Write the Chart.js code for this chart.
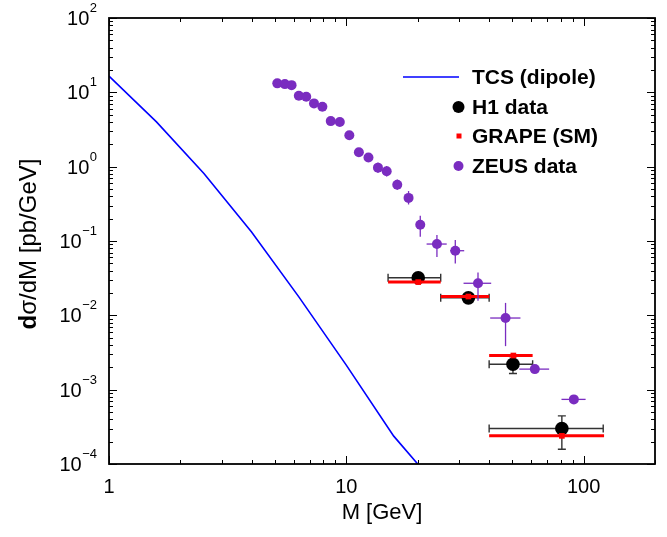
<!DOCTYPE html>
<html>
<head>
<meta charset="utf-8">
<script src="https://cdn.jsdelivr.net/npm/chart.js@4.4.1/dist/chart.umd.min.js"></script>
<style>
html, body { margin: 0; padding: 0; background: #fff; }
#wrap { width: 667px; height: 537px; }
</style>
</head>
<body>
<div id="wrap"><canvas id="chart" width="667" height="537"></canvas></div>
<script>
// TCS (dipole) prediction
var tcsM   = [1, 1.585, 2.512, 3.981, 6.31, 10, 15.85, 20];
var tcsVal = [16.5, 4.0, 0.81, 0.133, 0.0177, 0.00214, 0.000237, 0.0001];

// H1 data: bin edges in M, value and y error band
var h1M    = [20.1, 32.7, 50.4, 81];
var h1Val  = [0.032, 0.0172, 0.0022, 0.0003];
var h1Mlo  = [15, 25, 40, 40];
var h1Mhi  = [25, 40, 61, 121];
var h1Lo   = [0.029, 0.0155, 0.00165, 0.000158];
var h1Hi   = [0.035, 0.019, 0.0028, 0.000444];

// GRAPE (SM) prediction per H1 bin
var grapeM   = [20.1, 32.7, 50.6, 81];
var grapeVal = [0.028, 0.0179, 0.00288, 0.000239];
var grapeMlo = [15, 25, 40, 40];
var grapeMhi = [25, 40, 61, 122];

// ZEUS data
var zeusM   = [5.12, 5.51, 5.88, 6.31, 6.78, 7.31, 7.93, 8.60, 9.39, 10.3, 11.3, 12.4, 13.6, 14.8, 16.4, 18.3, 20.5, 24.1, 28.8, 35.9, 46.9, 62.3, 91];
var zeusVal = [13.2, 12.9, 12.5, 9.0, 8.7, 7.1, 6.4, 4.1, 4.0, 2.64, 1.56, 1.33, 0.97, 0.87, 0.57, 0.38, 0.165, 0.091, 0.074, 0.027, 0.0092, 0.00189, 0.00074];
var zeusMlo = [4.95, 5.33, 5.7, 6.1, 6.55, 7.05, 7.65, 8.3, 9.05, 9.95, 10.9, 12.0, 13.1, 14.3, 15.8, 17.6, 19.7, 21.8, 27.4, 31.2, 40.4, 53.6, 80.7];
var zeusMhi = [5.3, 5.7, 6.06, 6.52, 7.0, 7.57, 8.2, 8.9, 9.72, 10.65, 11.7, 12.8, 14.1, 15.3, 17.0, 19.0, 21.3, 26.5, 31.4, 40.8, 54.2, 71.6, 102];
var zeusLo  = [12.6, 12.3, 11.9, 8.6, 8.3, 6.8, 6.1, 3.9, 3.8, 2.5, 1.45, 1.22, 0.83, 0.74, 0.49, 0.31, 0.114, 0.061, 0.050, 0.0157, 0.00385, 0.0017, 0.00067];
var zeusHi  = [13.8, 13.5, 13.1, 9.4, 9.1, 7.4, 6.7, 4.3, 4.2, 2.78, 1.68, 1.45, 1.14, 1.02, 0.67, 0.47, 0.218, 0.12, 0.103, 0.0378, 0.0147, 0.0021, 0.00081];

// axis ticks
var xLabels = [1, 10, 100];
var yExps = [-4, -3, -2, -1, 0, 1, 2];

var PURPLE = '#7a2cc0';
var FONT = '"Liberation Sans", Arial, Helvetica, sans-serif';

function points(ms, vals, mlo, mhi, lo, hi) {
    return ms.map(function (m, i) {
        return {
            x: m, y: vals[i],
            xMin: mlo ? mlo[i] : null, xMax: mhi ? mhi[i] : null,
            yMin: lo ? lo[i] : null, yMax: hi ? hi[i] : null
        };
    });
}

// draws x/y error bars of a dataset right before its markers
var errorBars = {
    id: 'errorBars',
    beforeDatasetDraw: function (chart, args) {
        var ds = chart.data.datasets[args.index];
        if (!ds.errStyle) return;
        var xs = chart.scales.x, ys = chart.scales.y, ctx = chart.ctx, a = chart.chartArea;
        var st = ds.errStyle;
        ctx.save();
        ctx.beginPath();
        ctx.rect(a.left, a.top, a.right - a.left, a.bottom - a.top);
        ctx.clip();
        ctx.strokeStyle = st.color;
        ds.data.forEach(function (p) {
            var px = xs.getPixelForValue(p.x), py = ys.getPixelForValue(p.y);
            if (p.xMin != null) {
                var x1 = xs.getPixelForValue(p.xMin), x2 = xs.getPixelForValue(p.xMax);
                ctx.lineWidth = st.xWidth;
                ctx.beginPath();
                ctx.moveTo(x1, py); ctx.lineTo(x2, py);
                if (st.cap) {
                    ctx.moveTo(x1, py - st.cap); ctx.lineTo(x1, py + st.cap);
                    ctx.moveTo(x2, py - st.cap); ctx.lineTo(x2, py + st.cap);
                }
                ctx.stroke();
            }
            if (p.yMin != null) {
                var y1 = ys.getPixelForValue(p.yMin), y2 = ys.getPixelForValue(p.yMax);
                ctx.lineWidth = st.yWidth;
                ctx.beginPath();
                ctx.moveTo(px, y1); ctx.lineTo(px, y2);
                if (st.cap) {
                    ctx.moveTo(px - st.cap, y1); ctx.lineTo(px + st.cap, y1);
                    ctx.moveTo(px - st.cap, y2); ctx.lineTo(px + st.cap, y2);
                }
                ctx.stroke();
            }
        });
        ctx.restore();
    }
};

// frame, inward ticks on all four sides, tick labels and titles
var axesFrame = {
    id: 'axesFrame',
    afterDraw: function (chart) {
        var ctx = chart.ctx, a = chart.chartArea, xs = chart.scales.x, ys = chart.scales.y;
        ctx.save();
        ctx.strokeStyle = '#000';
        ctx.lineWidth = 1.8;
        ctx.strokeRect(a.left, a.top, a.right - a.left, a.bottom - a.top);

        ctx.lineWidth = 1;
        ctx.beginPath();
        var d, k, v, p, len;
        for (d = 0; d <= 2; d++) {
            for (k = 1; k <= 9; k++) {
                v = k * Math.pow(10, d);
                if (v < xs.min || v > xs.max) continue;
                p = Math.round(xs.getPixelForValue(v)) + 0.5;
                len = k === 1 ? 8 : 4;
                ctx.moveTo(p, a.bottom); ctx.lineTo(p, a.bottom - len);
                ctx.moveTo(p, a.top); ctx.lineTo(p, a.top + len);
            }
        }
        for (d = -4; d <= 2; d++) {
            for (k = 1; k <= 9; k++) {
                v = k * Math.pow(10, d);
                if (v < ys.min * 0.999 || v > ys.max * 1.001) continue;
                p = Math.round(ys.getPixelForValue(v)) + 0.5;
                len = k === 1 ? 8 : 4;
                ctx.moveTo(a.left, p); ctx.lineTo(a.left + len, p);
                ctx.moveTo(a.right, p); ctx.lineTo(a.right - len, p);
            }
        }
        ctx.stroke();

        ctx.fillStyle = '#000';
        ctx.font = '20px ' + FONT;
        ctx.textAlign = 'center';
        ctx.textBaseline = 'middle';
        xLabels.forEach(function (v) {
            ctx.fillText(String(v), xs.getPixelForValue(v), a.bottom + 23);
        });

        yExps.forEach(function (e) {
            var py = ys.getPixelForValue(Math.pow(10, e));
            var sup = e < 0 ? '\u2212' + (-e) : String(e);
            ctx.font = '13px ' + FONT;
            var sw = ctx.measureText(sup).width;
            ctx.textAlign = 'left';
            ctx.textBaseline = 'alphabetic';
            ctx.fillText(sup, 97 - sw, py - 6);
            ctx.font = '20px ' + FONT;
            ctx.textAlign = 'right';
            ctx.fillText('10', 96.5 - sw, py + 7);
        });

        // x title
        ctx.font = '22px ' + FONT;
        ctx.textAlign = 'center';
        ctx.textBaseline = 'middle';
        ctx.fillText('M [GeV]', (a.left + a.right) / 2, 513);

        // y title, bold "d" then the rest
        ctx.save();
        ctx.translate(29, 244);
        ctx.rotate(-Math.PI / 2);
        ctx.textBaseline = 'middle';
        ctx.textAlign = 'left';
        ctx.font = 'bold 24px ' + FONT;
        var w1 = ctx.measureText('d').width;
        ctx.font = '24px ' + FONT;
        var w2 = ctx.measureText('\u03c3/dM [pb/GeV]').width;
        var x0 = -(w1 + w2) / 2;
        ctx.font = 'bold 24px ' + FONT;
        ctx.fillText('d', x0, 0);
        ctx.font = '24px ' + FONT;
        ctx.fillText('\u03c3/dM [pb/GeV]', x0 + w1, 0);
        ctx.restore();

        ctx.restore();
    }
};

// legend in the upper right of the plot
var legendBox = {
    id: 'legendBox',
    afterDraw: function (chart) {
        var ctx = chart.ctx;
        var rows = [77, 107, 136, 166];
        var names = ['TCS (dipole)', 'H1 data', 'GRAPE (SM)', 'ZEUS data'];
        ctx.save();
        ctx.strokeStyle = '#0000ff';
        ctx.lineWidth = 1.6;
        ctx.beginPath();
        ctx.moveTo(403, rows[0]); ctx.lineTo(459, rows[0]);
        ctx.stroke();
        ctx.fillStyle = '#000';
        ctx.beginPath(); ctx.arc(458.5, rows[1], 6, 0, 2 * Math.PI); ctx.fill();
        ctx.fillStyle = '#ff0000';
        ctx.fillRect(456.5, rows[2] - 2.5, 5, 5);
        ctx.fillStyle = PURPLE;
        ctx.beginPath(); ctx.arc(458.5, rows[3], 5, 0, 2 * Math.PI); ctx.fill();
        ctx.fillStyle = '#000';
        ctx.font = 'bold 21px ' + FONT;
        ctx.textAlign = 'left';
        ctx.textBaseline = 'middle';
        names.forEach(function (n, i) { ctx.fillText(n, 472, rows[i] + 1); });
        ctx.restore();
    }
};

var ctx = document.getElementById('chart').getContext('2d');
var chart = new Chart(ctx, {
    type: 'scatter',
    data: {
        datasets: [{
            label: 'TCS (dipole)',
            data: points(tcsM, tcsVal),
            showLine: true,
            borderColor: '#0000ff',
            borderWidth: 1.6,
            pointRadius: 0,
            tension: 0,
            order: 4
        }, {
            label: 'H1 data',
            data: points(h1M, h1Val, h1Mlo, h1Mhi, h1Lo, h1Hi),
            pointRadius: 6.8,
            pointBackgroundColor: '#000',
            pointBorderWidth: 0,
            errStyle: { color: '#333', xWidth: 1.4, yWidth: 1.4, cap: 4 },
            order: 3
        }, {
            label: 'GRAPE (SM)',
            data: points(grapeM, grapeVal, grapeMlo, grapeMhi),
            pointStyle: 'rect',
            pointRadius: 4,
            pointBackgroundColor: '#ff0000',
            pointBorderWidth: 0,
            errStyle: { color: '#ff0000', xWidth: 3, yWidth: 3, cap: 0 },
            order: 2
        }, {
            label: 'ZEUS data',
            data: points(zeusM, zeusVal, zeusMlo, zeusMhi, zeusLo, zeusHi),
            pointRadius: 5,
            pointBackgroundColor: PURPLE,
            pointBorderWidth: 0,
            errStyle: { color: PURPLE, xWidth: 1.3, yWidth: 1.3, cap: 0 },
            order: 1
        }]
    },
    options: {
        responsive: false,
        animation: false,
        layout: { padding: { left: 109, right: 12, top: 18, bottom: 73 } },
        plugins: { legend: { display: false }, tooltip: { enabled: false } },
        scales: {
            x: { type: 'logarithmic', min: 1, max: 200, display: false },
            y: { type: 'logarithmic', min: 1e-4, max: 100, display: false }
        }
    },
    plugins: [errorBars, axesFrame, legendBox]
});
</script>
</body>
</html>
